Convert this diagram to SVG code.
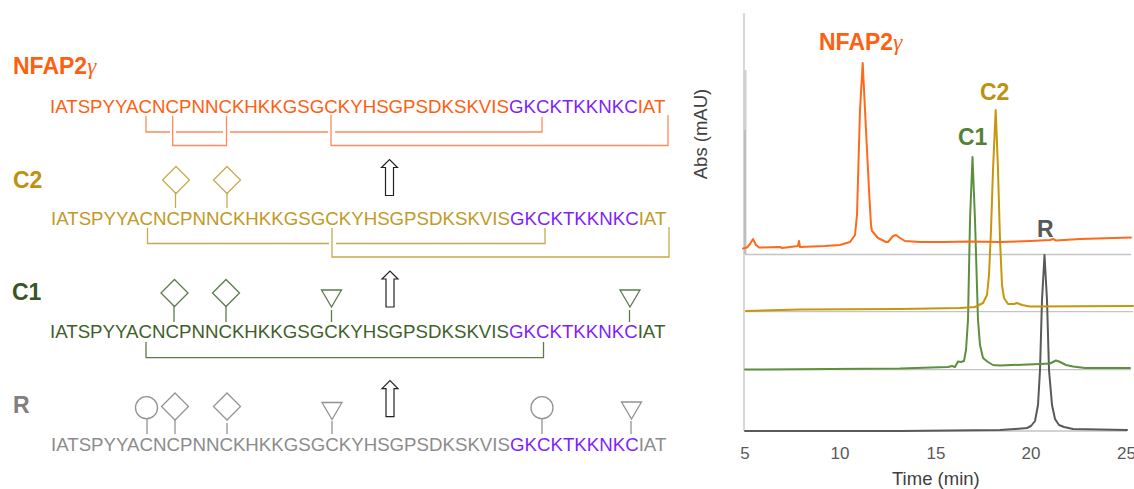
<svg xmlns="http://www.w3.org/2000/svg" width="1134" height="489" viewBox="0 0 1134 489">
<style>
text{font-family:"Liberation Sans",Arial,sans-serif}
.seq{font-size:18.68px}
.p{fill:#7f1fff}
.lab{font-size:23px;font-weight:bold}
.g{font-family:"Liberation Serif",serif;font-style:italic;font-weight:normal}
.tick{font-size:17px;fill:#595959}
.ax{font-size:18.5px;fill:#404040}
.o{stroke:#ff8a5c}.y{stroke:#c9a94f}.d{stroke:#5d7a4c}.r{stroke:#929292}
.s{fill:none;stroke-width:1.3}
.arrow{fill:#fff;stroke:#222;stroke-width:1.2}
.base{fill:none;stroke:#c4c4c4;stroke-width:1.3}
.tr{fill:none;stroke-width:2;stroke-linejoin:round;stroke-linecap:round}
</style>
<defs>
<polygon id="dia" points="0,-13.5 13.5,0 0,13.5 -13.5,0"/>
<polygon id="tri" points="-10,0 10,0 0,17"/>
<path id="arr" d="M-8,8 L0,0 L8,8 L4,8 L4,36 L-4,36 L-4,8 Z"/>
</defs>
<g id="seq-nfap">
<text class="lab" x="13" y="74" fill="#ff6010">NFAP2<tspan class="g">γ</tspan></text>
<text class="seq" x="50" y="113" fill="#ff6010">IATSPYYACNCPNNCKHKKGSGCKYHSGPSDKSKVIS<tspan class="p">GKCKTKKNKC</tspan>IAT</text>
</g>
<g id="seq-c2" class="s y">
<text class="lab" x="13" y="188" fill="#c09010" stroke="none">C2</text>
<text class="seq" x="51" y="225" fill="#c19a26" stroke="none">IATSPYYACNCPNNCKHKKGSGCKYHSGPSDKSKVIS<tspan class="p">GKCKTKKNKC</tspan>IAT</text>
<use href="#dia" x="176" y="180"/><path d="M175.500 192V208"/>
<use href="#dia" x="227" y="180"/><path d="M227 192V208"/>
</g>
<g id="seq-c1" class="s d">
<text class="lab" x="12" y="300" fill="#375623" stroke="none">C1</text>
<text class="seq" x="50" y="338" fill="#3f5f2a" stroke="none">IATSPYYACNCPNNCKHKKGSGCKYHSGPSDKSKVIS<tspan class="p">GKCKTKKNKC</tspan>IAT</text>
<use href="#dia" x="174.500" y="293"/><path d="M174 306V322"/>
<use href="#dia" x="226" y="293"/><path d="M226 306V322"/>
<use href="#tri" x="331.500" y="290"/><path d="M331.500 310V322"/>
<use href="#tri" x="630" y="290"/><path d="M629.500 310V322"/>
</g>
<g id="seq-r" class="s r">
<text class="lab" x="13" y="413" fill="#808080" stroke="none">R</text>
<text class="seq" x="51" y="451" fill="#8c8c8c" stroke="none">IATSPYYACNCPNNCKHKKGSGCKYHSGPSDKSKVIS<tspan class="p">GKCKTKKNKC</tspan>IAT</text>
<circle cx="146.500" cy="407.700" r="11"/><path d="M147 419V434"/>
<use href="#dia" x="175" y="406.500"/><path d="M175 420V434"/>
<use href="#dia" x="227" y="406.500"/><path d="M227 423V434"/>
<use href="#tri" x="332" y="402.500"/><path d="M332 421V434"/>
<circle cx="542" cy="407.700" r="11"/><path d="M542 419V434"/>
<use href="#tri" x="631.500" y="402"/><path d="M631 421V434"/>
</g>
<g id="connectors">
<path class="s o" d="M146 116V132H170M176 132H223M230 132H328M335 132H542V117M172.700 116V145.500H226.500V116M331 115V145.500H668V115"/>
<path class="s y" d="M147.500 228V243.500H329M336 243.500H545V228M332 228V257H669V227"/>
<path class="s d" d="M146 342V357.700H543.500V342"/>
<use class="arrow" href="#arr" x="389.500" y="159.500"/>
<use class="arrow" href="#arr" x="390" y="271"/>
<use class="arrow" href="#arr" x="390" y="380.700"/>
</g>
<g id="chart">
<path class="base" d="M744 13V431M745 254.500H1131M745 311.700H1133M745 369.700H1131M745 431H1127"/>
<path d="M745 70V254" stroke="#cfcfcf" stroke-width="3" fill="none"/>
<path d="M745 130V254" stroke="#bdbdbd" stroke-width="2" fill="none"/>
<polyline class="tr" stroke="#595959" points="745,431 900,431 1000,430 1015,429 1027,428 1031,426 1035,421 1038,405 1040,370 1042,300 1044.500,255 1047,300 1049,370 1052,405 1055,419 1059,425 1064,427 1073,429 1127,430"/>
<polyline class="tr" stroke="#5e8f3f" points="745,369.500 900,368.500 948,367 952,366 955,367 958,361.500 961,362 964,361 966,350 968,320 970,220 972.500,157 975,220 978,320 980,345 983,358 988,362 993,365 1000,365.500 1040,364 1050,363.500 1056,360.500 1059,361.500 1066,365 1073,366.500 1085,368 1130,368"/>
<polyline class="tr" stroke="#c8960c" points="746,311 800,309.500 900,309 960,308 975,307 983,303 987,295 989,275 991,230 993,170 995.700,110 998,170 1000,240 1002,285 1004,298 1008,304 1014,304 1017,303 1022,305 1030,306.500 1133,306"/>
<polyline class="tr" stroke="#ff6a1a" points="743,248.500 747,247.500 750,244 753,239 756,245 759,247.500 780,247 782,248 798,246 799,241 800,247 825,246 840,245 850,242 855,235 857,215 860,110 862.700,63 865,110 869,190 871,225 872,231 878,238 886,242 888,242 893,236 896,235 900,238 905,241 920,242 945,242 970,241.500 1000,242 1030,241 1050,240 1053,239 1056,240.500 1080,239 1131,237.500"/>
<text class="lab" x="819" y="50" fill="#ff6010">NFAP2<tspan class="g">γ</tspan></text>
<text class="lab" x="980" y="100" fill="#c09010">C2</text>
<text class="lab" x="958" y="145" fill="#548235">C1</text>
<text class="lab" x="1037" y="237" fill="#595959">R</text>
<text class="tick" x="745" y="459" text-anchor="middle">5</text>
<text class="tick" x="840" y="459" text-anchor="middle">10</text>
<text class="tick" x="936" y="459" text-anchor="middle">15</text>
<text class="tick" x="1031" y="459" text-anchor="middle">20</text>
<text class="tick" x="1117" y="459">25</text>
<text class="ax" x="892" y="485">Time (min)</text>
<text class="ax" transform="translate(707 134) rotate(-90)" text-anchor="middle">Abs (mAU)</text>
</g>
</svg>
